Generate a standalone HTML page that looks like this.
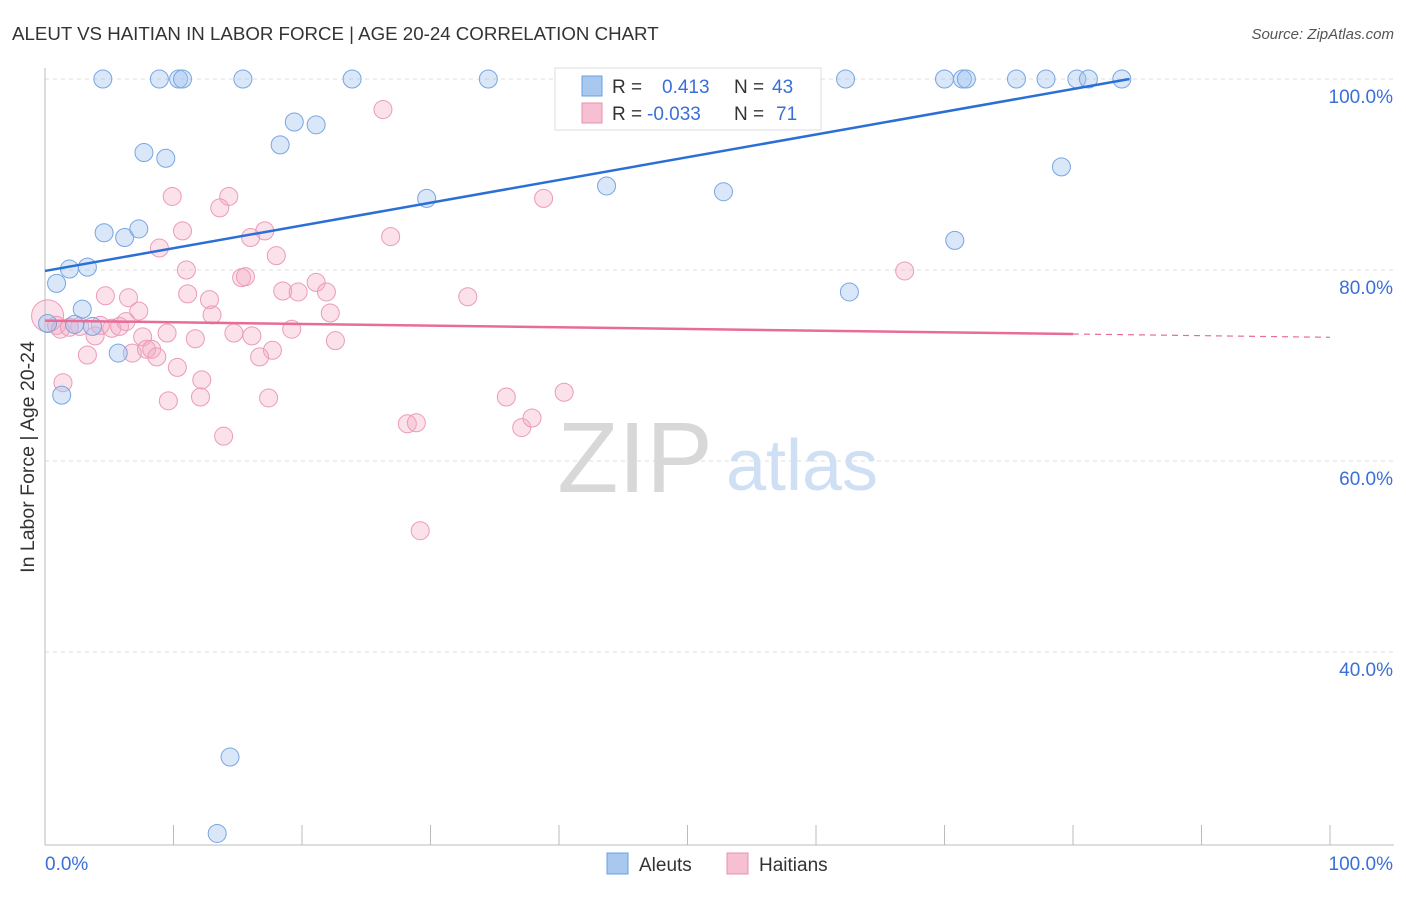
<!DOCTYPE html>
<html><head><meta charset="utf-8">
<style>
body{margin:0;background:#fff;font-family:"Liberation Sans",sans-serif;}
svg text{font-family:"Liberation Sans",sans-serif;}
</style></head>
<body>
<svg id="chart" width="1406" height="892">
<text x="12" y="40" font-size="18.7" fill="#333">ALEUT VS HAITIAN IN LABOR FORCE | AGE 20-24 CORRELATION CHART</text>
<text x="1394" y="39" font-size="15" fill="#555" font-style="italic" text-anchor="end">Source: ZipAtlas.com</text>
<text transform="translate(34,457) rotate(-90)" font-size="19.5" fill="#333" text-anchor="middle">In Labor Force | Age 20-24</text>
<g id="grid"></g>
<g>
<text x="635" y="492" font-size="100" fill="#d8d8d8" font-family="Liberation Serif" text-anchor="middle">ZIP</text>
<text x="802" y="490" font-size="72" fill="#cfe0f5" text-anchor="middle">atlas</text>
</g>
<g id="axes"></g>
<g id="pts"></g>
<g id="lines"></g>
<g>
<rect x="555" y="68" width="266" height="62" fill="#fff" stroke="#ddd"/>
<rect x="582" y="76" width="20" height="20" fill="#a8c8f0" stroke="#6a9fe0"/>
<rect x="582" y="103" width="20" height="20" fill="#f7bfd2" stroke="#e890b0"/>
<text x="612" y="93" font-size="19" fill="#333">R = </text><text x="662" y="93" font-size="19" fill="#3a6fd8">0.413</text>
<text x="734" y="93" font-size="19" fill="#333">N = </text><text x="772" y="93" font-size="19" fill="#3a6fd8">43</text>
<text x="612" y="120" font-size="19" fill="#333">R = </text><text x="647" y="120" font-size="19" fill="#3a6fd8">-0.033</text>
<text x="734" y="120" font-size="19" fill="#333">N = </text><text x="776" y="120" font-size="19" fill="#3a6fd8">71</text>
</g>
<g>
<rect x="607" y="853" width="21" height="21" fill="#a8c8f0" stroke="#6a9fe0"/>
<text x="639" y="871" font-size="19" fill="#333">Aleuts</text>
<rect x="727" y="853" width="21" height="21" fill="#f7bfd2" stroke="#e890b0"/>
<text x="759" y="871" font-size="19" fill="#333">Haitians</text>
</g>
</svg>
<script>
const yTicks=[100,80,60,40];
const yTickLabels=["100.0%","80.0%","60.0%","40.0%"];
const xTickLabels=["0.0%","100.0%"];
const aleutX=[4.5,8.9,10.4,10.7,15.4,23.9,34.5,47.2,55.6,62.3,70.0,71.4,71.7,75.6,77.9,80.3,81.2,83.8,19.4,21.1,7.7,9.4,18.3,29.7,43.7,52.8,79.1,4.6,6.2,7.3,70.8,1.9,3.3,0.9,62.6,2.9,2.3,0.2,3.7,5.7,1.3,14.4,13.4];
const aleutY=[100,100,100,100,100,100,100,100,100,100,100,100,100,100,100,100,100,100,95.5,95.2,92.3,91.7,93.1,87.5,88.8,88.2,90.8,83.9,83.4,84.3,83.1,80.1,80.3,78.6,77.7,75.9,74.3,74.4,74.1,71.3,66.9,29.0,21.0];
const haitianX=[26.3,9.9,14.3,13.6,38.8,10.7,17.1,16.0,26.9,8.9,18.0,11.0,66.9,15.3,15.6,21.1,18.5,19.7,21.9,4.7,6.5,11.1,12.8,32.9,7.3,13.0,22.2,0.2,0.9,1.2,2.7,3.9,5.2,5.8,6.3,7.6,9.5,11.7,14.7,16.1,19.2,22.6,3.3,6.8,7.9,8.3,8.7,17.7,16.7,10.3,1.4,12.2,9.6,12.1,17.4,35.9,40.4,13.9,28.2,28.9,37.1,37.9,29.2,1.9,4.3];
const haitianY=[96.8,87.7,87.7,86.5,87.5,84.1,84.1,83.4,83.5,82.3,81.5,80.0,79.9,79.2,79.3,78.7,77.8,77.7,77.7,77.3,77.1,77.5,76.9,77.2,75.7,75.3,75.5,75.2,74.2,73.8,74.1,73.1,73.9,74.1,74.6,73.0,73.4,72.8,73.4,73.1,73.8,72.6,71.1,71.3,71.7,71.7,70.9,71.6,70.9,69.8,68.2,68.5,66.3,66.7,66.6,66.7,67.2,62.6,63.9,64.0,63.5,64.5,52.7,74.0,74.2];
const aleutTrend=[79.9,100];const aleutTrendX=[0,84.4];
const haitianTrend=[74.7,73.3];const haitianTrendX=[0,80];
const NS="http://www.w3.org/2000/svg";
const sx=v=>45+v*12.85, sy=v=>79+(100-v)*9.55;
function mk(tag,attrs,parent){const e=document.createElementNS(NS,tag);for(const k in attrs)e.setAttribute(k,attrs[k]);parent.appendChild(e);return e;}
const grid=document.getElementById('grid'),axes=document.getElementById('axes'),pts=document.getElementById('pts'),lines=document.getElementById('lines');
yTicks.forEach((t,i)=>{
 const g=mk('line',{x1:45,x2:1394,y1:sy(t),y2:sy(t),stroke:'#ddd','stroke-dasharray':'4,4'},grid);
 
 
 const l=mk('text',{x:1393,y:sy(t)+24,'font-size':19,fill:'#3a6fd8','text-anchor':'end'},axes);l.textContent=yTickLabels[i];
 
 
});
mk('line',{x1:45,x2:45,y1:68,y2:845,stroke:'#bbb'},axes);
mk('line',{x1:45,x2:1394,y1:845,y2:845,stroke:'#bbb'},axes);
for(let i=0;i<=10;i++){mk('line',{x1:sx(i*10),x2:sx(i*10),y1:825,y2:845,stroke:'#bbb'},axes);}
const x0=mk('text',{x:45,y:870,'font-size':19,fill:'#3a6fd8'},axes);x0.textContent=xTickLabels[0];


const x1=mk('text',{x:1393,y:870,'font-size':19,fill:'#3a6fd8','text-anchor':'end'},axes);x1.textContent=xTickLabels[1];


haitianX.forEach((x,i)=>{
 const c=mk('circle',{cx:sx(x),cy:sy(haitianY[i]),r:i==27?16:9,fill:'rgba(244,170,196,0.35)',stroke:'#eb9bb8','stroke-width':1},pts);
 
 
});
aleutX.forEach((x,i)=>{
 const c=mk('circle',{cx:sx(x),cy:sy(aleutY[i]),r:9,fill:'rgba(160,195,240,0.4)',stroke:'#77a6e2','stroke-width':1},pts);
 
 
});
const bl=mk('line',{x1:sx(aleutTrendX[0]),y1:sy(aleutTrend[0]),x2:sx(aleutTrendX[1]),y2:sy(aleutTrend[1]),stroke:'#2b6fd6','stroke-width':2.5},lines);


const pl=mk('line',{x1:sx(haitianTrendX[0]),y1:sy(haitianTrend[0]),x2:sx(haitianTrendX[1]),y2:sy(haitianTrend[1]),stroke:'#e86c98','stroke-width':2.5},lines);


const slope=(haitianTrend[1]-haitianTrend[0])/(haitianTrendX[1]-haitianTrendX[0]);
const pd=mk('line',{x1:sx(haitianTrendX[1]),y1:sy(haitianTrend[1]),x2:sx(100),y2:sy(haitianTrend[0]+slope*100),stroke:'#e86c98','stroke-width':1.2,'stroke-dasharray':'6,5'},lines);


</script>
</body></html>
